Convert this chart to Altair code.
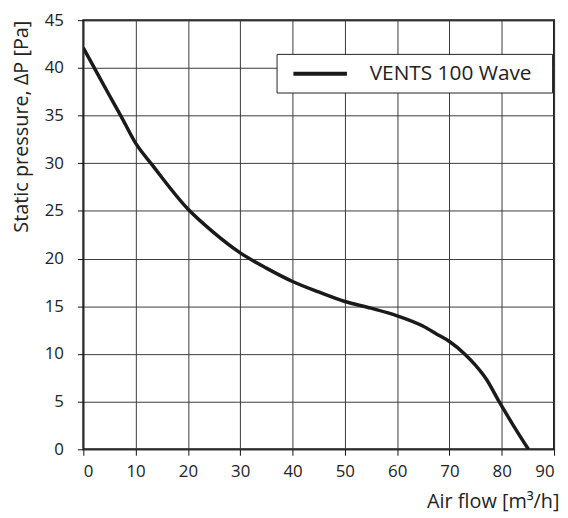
import altair as alt
import pandas as pd

# Air flow [m3/h]
flow = [0, 2.1, 5, 7.15, 10, 13.2, 20, 25, 30, 35, 40, 45, 50, 55, 60, 65, 67.5, 70, 72.9, 75, 77, 79.5, 82, 85.1]
# Static pressure [Pa]
pressure = [42.1, 40, 37.1, 35, 32.1, 29.8, 25.2, 22.7, 20.6, 19.0, 17.6, 16.5, 15.5, 14.8, 14.0, 12.9, 12.1, 11.3, 10, 8.8, 7.4, 5, 2.7, 0]
series_name = "VENTS 100 Wave"

x_ticks = [0, 10, 20, 30, 40, 50, 60, 70, 80, 90]
y_ticks = [0, 5, 10, 15, 20, 25, 30, 35, 40, 45]

df = pd.DataFrame({"flow": flow, "pressure": pressure, "model": [series_name] * len(flow)})

FONT = "Open Sans"

chart = alt.Chart(df).mark_line(
    strokeWidth=3.5, interpolate="monotone", clip=True
).encode(
    x=alt.X("flow:Q",
            scale=alt.Scale(domain=[0, 90], nice=False, zero=False),
            axis=alt.Axis(values=x_ticks, title="Air flow [m³/h]",
                          titleAnchor="end", titleAlign="right",
                          titleX=480, titleY=59, titleBaseline="alphabetic",
                          labelPadding=8)),
    y=alt.Y("pressure:Q",
            scale=alt.Scale(domain=[0, 45], nice=False, zero=False),
            axis=alt.Axis(values=y_ticks, title="Static pressure, ΔP [Pa]",
                          titleAngle=270, titleAlign="right",
                          titleX=-56, titleY=0, titleBaseline="alphabetic",
                          labelPadding=14)),
    color=alt.Color("model:N",
                    scale=alt.Scale(range=["#1a1a1a"]),
                    legend=alt.Legend(title=None, orient="none",
                                      legendX=195, legendY=34,
                                      symbolType="M-3,0H3", symbolSize=324,
                                      symbolStrokeWidth=4, symbolOffset=24,
                                      symbolStrokeColor="#1a1a1a",
                                      symbolFillColor="transparent",
                                      labelOffset=39, labelFontSize=21,
                                      labelLimit=400,
                                      labelFont=FONT, labelColor="#222",
                                      labelExpr="datum.label + '\u00a0\u00a0\u200b'",
                                      padding=9, strokeColor="#222",
                                      fillColor="white")),
).properties(
    width=475, height=433,
    autosize=alt.AutoSizeParams(type="none"),
    padding={"left": 76, "top": 10, "right": 6, "bottom": 64},
).configure_view(
    stroke="#111", strokeWidth=2
).configure_axis(
    domain=False,
    grid=True, gridColor="#3a3a3a", gridWidth=1, gridOpacity=1,
    ticks=True, tickColor="#111", tickSize=6, tickWidth=1,
    labelFont=FONT, labelFontSize=17, labelColor="#222",
    titleFont=FONT, titleFontSize=20, titleColor="#222", titleFontWeight="normal",
)

chart.save("out.html", embed_options={"renderer": "svg", "actions": False})
